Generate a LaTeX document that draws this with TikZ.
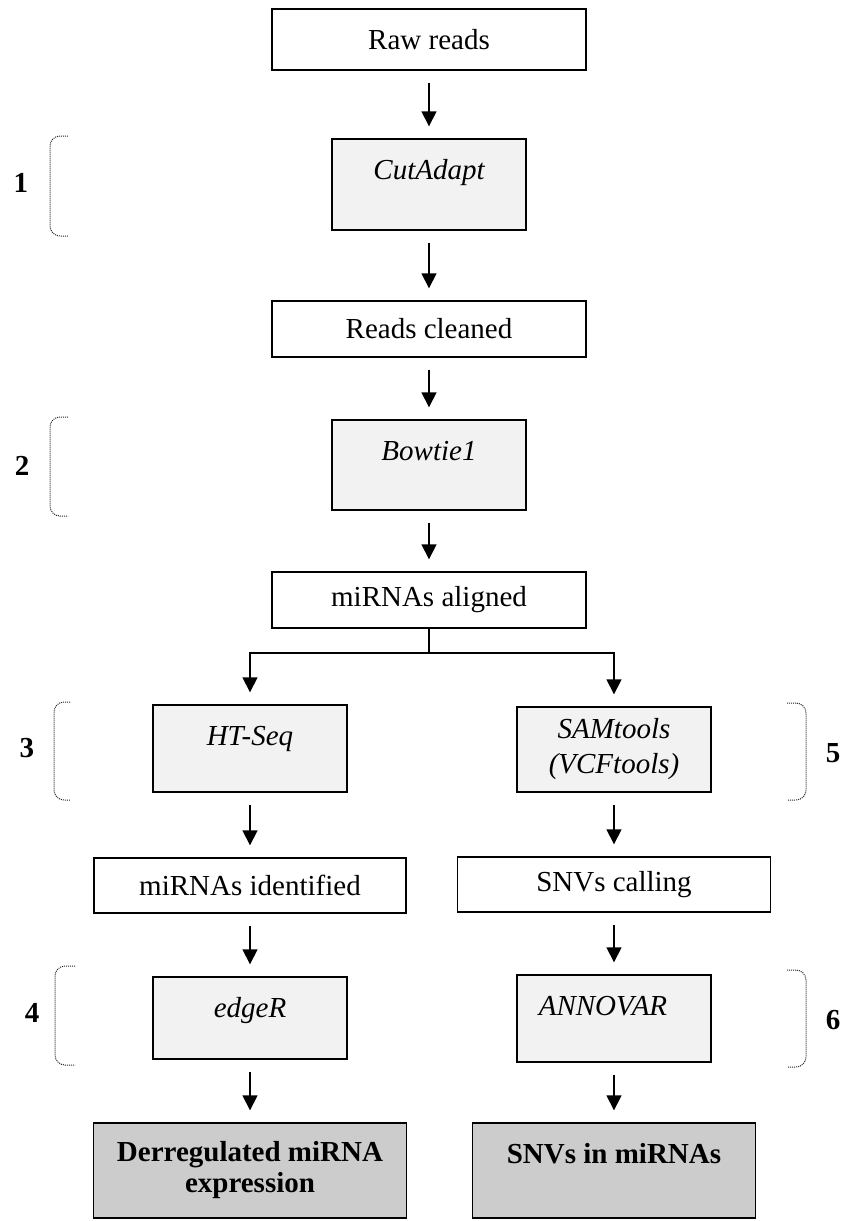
\documentclass[tikz,border=0pt]{standalone}
\usepackage{fontspec}
\setmainfont{Liberation Serif}
\usepackage{xcolor}
\usepackage{tikz}
\usetikzlibrary{positioning,arrows.meta}

\begin{document}
\begin{tikzpicture}[x=0.5pt, y=-0.5pt,
    box/.style={draw, line width=0.7pt, inner sep=0pt, align=center, minimum width=157pt,
                minimum height=28pt, font=\fontsize{14.5}{17.5}\selectfont},
    toolbox/.style={box, fill=black!5, minimum width=97pt,
                font=\fontsize{14.5}{17.5}\selectfont\itshape},
    tool/.style={toolbox, text height=20pt, text depth=#1},
    tool/.default=25pt,
    result/.style={box, fill=black!20, minimum height=47.5pt,
                font=\fontsize{14.5}{15.5}\selectfont\bfseries},
    num/.style={font=\fontsize{14.5}{17.5}\selectfont\bfseries},
    brk/.style={black!85, line width=0.5pt, dash pattern=on 0.5pt off 0.5pt, rounded corners=5pt},
    arr/.style={-{Triangle[length=7.5pt,width=7.5pt]}, line width=0.8pt,
                shorten <=6pt, shorten >=6pt}]
  \useasboundingbox (0,0) rectangle (845,1221);
  \node[box, minimum height=30.5pt] (raw) at (429,39.5) {Raw reads};
  \node[tool=25.5pt] (cut) at (429,184.5) {CutAdapt};
  \node[box] (clean) at (429,329) {Reads cleaned};
  \node[tool] (bow) at (429,465) {Bowtie1};
  \node[box] (aligned) at (429,600) {miRNAs aligned};
  \node[tool=23.5pt] (ht) at (250,748.5) {HT-Seq};
  \node[toolbox, minimum height=42.5pt] (sam) at (614,749.5) {SAMtools\\(VCFtools)};
  \node[box, minimum width=156pt, minimum height=27.5pt] (ident) at (250,885.5) {miRNAs identified};
  \node[box, minimum width=156.5pt, minimum height=27.5pt] (call) at (614,884.5) {SNVs calling};
  \node[tool=21pt] (edge) at (250,1018) {edgeR};
  \node[tool=23.5pt] (anno) at (614,1018.5) {ANNOVAR\hspace*{11pt}};
  \node[result, minimum width=156.5pt] (derr) at (250,1170.5) {Derregulated miRNA\\expression};
  \node[result, minimum width=141.5pt, text height=20pt, text depth=27.5pt] (snvm) at (614,1170.5) {SNVs in miRNAs};
  \coordinate (fork) at (429,653);
  \draw[arr] (raw) -- (cut);
  \draw[arr] (cut) -- (clean);
  \draw[arr] (clean) -- (bow);
  \draw[arr] (bow) -- (aligned);
  \draw[line width=0.8pt] (aligned) -- (fork);
  \draw[arr, shorten <=0pt] (fork) -| (ht);
  \draw[arr, shorten <=0pt] (fork) -| (sam);
  \draw[arr] (ht) -- (ident);
  \draw[arr] (ident) -- (edge);
  \draw[arr] (edge) -- (derr);
  \draw[arr] (sam) -- (call);
  \draw[arr] (call) -- (anno);
  \draw[arr] (anno) -- (snvm);
  \draw[brk] (68,136) -- (50,136) -- (50,236) -- (68,236);
  \draw[brk] (68,417) -- (50,417) -- (50,516) -- (68,516);
  \draw[brk] (70,702) -- (54,702) -- (54,800) -- (70,800);
  \draw[brk] (75,966) -- (55,966) -- (55,1065) -- (75,1065);
  \draw[brk] (787,703) -- (806,703) -- (806,800) -- (787,800);
  \draw[brk] (787,970) -- (806,970) -- (806,1067) -- (787,1067);
  \node[num] (n1) at (21,183) {1};
  \node[num] (n2) at (22,466) {2};
  \node[num] (n3) at (27,748) {3};
  \node[num] (n4) at (32,1013) {4};
  \node[num] (n5) at (833,753) {5};
  \node[num] (n6) at (833,1020) {6};
\end{tikzpicture}
\end{document}
